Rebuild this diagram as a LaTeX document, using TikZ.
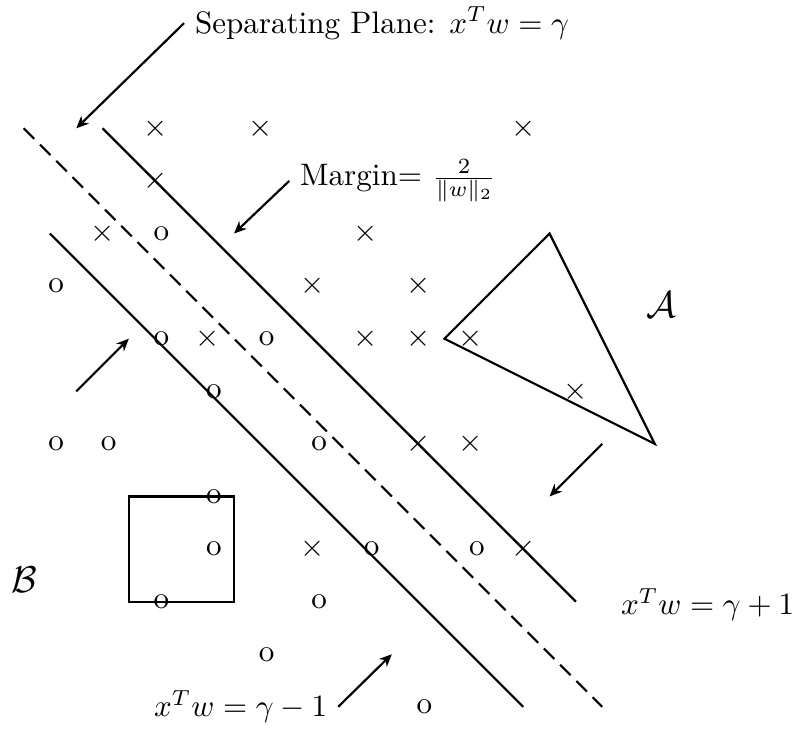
\documentclass[tikz,border=0pt]{standalone}
\usepackage{amsmath,amssymb}
\usepackage{xcolor}
\usepackage{tikz}
\usetikzlibrary{arrows.meta}

\begin{document}
\begin{tikzpicture}[x=0.595cm, y=0.595cm, >={Stealth[length=4pt, width=3.5pt]},
    cross/.style={inner sep=0pt},
    ring/.style={inner sep=0pt, xshift=2pt},
    bound/.style={line width=0.7pt},
    plane/.style={line width=0.7pt, dash pattern=on 4.8pt off 2.6pt}]
    \useasboundingbox (-0.95,-0.42) rectangle (14.11,13.44);

    % points of A
    \node[cross] (a1) at (2,11) {$\times$};
    \node[cross] (a2) at (4,11) {$\times$};
    \node[cross] (a3) at (9,11) {$\times$};
    \node[cross] (a4) at (2,10) {$\times$};
    \node[cross] (a5) at (1,9) {$\times$};
    \node[cross] (a6) at (6,9) {$\times$};
    \node[cross] (a7) at (5,8) {$\times$};
    \node[cross] (a8) at (7,8) {$\times$};
    \node[cross] (a9) at (3,7) {$\times$};
    \node[cross] (a10) at (6,7) {$\times$};
    \node[cross] (a11) at (7,7) {$\times$};
    \node[cross] (a12) at (8,7) {$\times$};
    \node[cross] (a13) at (10,6) {$\times$};
    \node[cross] (a14) at (7,5) {$\times$};
    \node[cross] (a15) at (8,5) {$\times$};
    \node[cross] (a16) at (5,3) {$\times$};
    \node[cross] (a17) at (9,3) {$\times$};

    % points of B
    \node[ring] (b1) at (2,9) {o};
    \node[ring] (b2) at (0,8) {o};
    \node[ring] (b3) at (2,7) {o};
    \node[ring] (b4) at (4,7) {o};
    \node[ring] (b5) at (3,6) {o};
    \node[ring] (b6) at (0,5) {o};
    \node[ring] (b7) at (1,5) {o};
    \node[ring] (b8) at (5,5) {o};
    \node[ring] (b9) at (3,4) {o};
    \node[ring] (b10) at (3,3) {o};
    \node[ring] (b11) at (6,3) {o};
    \node[ring] (b12) at (8,3) {o};
    \node[ring] (b13) at (2,2) {o};
    \node[ring] (b14) at (5,2) {o};
    \node[ring] (b15) at (4,1) {o};
    \node[ring] (b16) at (7,0) {o};

    % planes and sets
    \draw[plane] (-0.5,11) -- (10.5,0);
    \draw[bound] (1,11) -- (10,2);
    \draw[bound] (0,9) -- (9,0);
    \draw[bound] (1.5,2) rectangle (3.5,4);
    \draw[bound] (7.5,7) -- (9.5,9) -- (11.5,5) -- cycle;

    \node[font=\large] (setA) at (11.63,7.64) {$\mathcal{A}$};
    \node[font=\large] (setB) at (-0.48,2.41) {$\mathcal{B}$};

    % labels
    \node[anchor=west] (sep) at (2.55,13) {Separating Plane: $x^Tw=\gamma$};
    \node[anchor=west] (margin) at (4.55,10) {Margin= $\frac{2}{\|w\|_2}$};
    \node[anchor=west] (upper) at (10.65,1.95) {$x^Tw=\gamma+1$};
    \node[anchor=east] (lower) at (5.48,0) {$x^Tw=\gamma-1$};

    \coordinate (sepTip) at (0.5,11);
    \coordinate (marginTip) at (3.5,9);
    \coordinate (lowTip) at (6.5,1);
    \coordinate (leftTail) at (0.5,6);
    \coordinate (leftTip) at (1.5,7);
    \coordinate (rightTail) at (10.5,5);
    \coordinate (rightTip) at (9.5,4);

    \draw[->, bound] (sep.west) -- (sepTip);
    \draw[->, bound] (margin.west) -- (marginTip);
    \draw[->, bound] (lower.east) -- (lowTip);
    \draw[->, bound] (leftTail) -- (leftTip);
    \draw[->, bound] (rightTail) -- (rightTip);
\end{tikzpicture}
\end{document}
